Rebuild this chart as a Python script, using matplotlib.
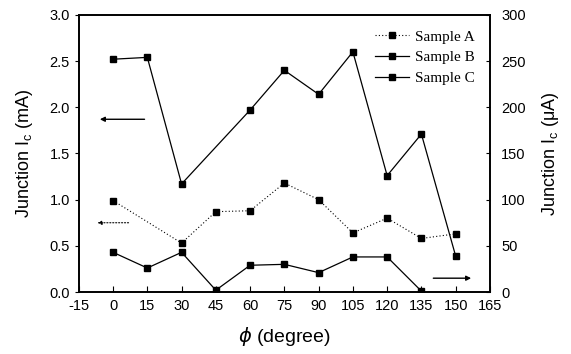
import matplotlib
matplotlib.use("Agg")
import matplotlib.pyplot as plt

# angles in degrees
phi_b = [0, 15, 30, 60, 75, 90, 105, 120, 135, 150]
phi_a = [0, 30, 45, 60, 75, 90, 105, 120, 135, 150]
phi_c = [0, 15, 30, 45, 60, 75, 90, 105, 120, 135]

# Sample A, B in mA (left axis), Sample C in uA (right axis)
ic_a = [0.99, 0.53, 0.87, 0.88, 1.18, 1.00, 0.64, 0.80, 0.58, 0.63]
ic_b = [2.52, 2.54, 1.17, 1.97, 2.40, 2.14, 2.60, 1.26, 1.71, 0.39]
ic_c = [43, 26, 43, 2, 29, 30, 21, 38, 38, 1]

plt.rcParams['font.family'] = ['Liberation Sans', 'DejaVu Sans']
plt.rcParams['axes.unicode_minus'] = False
plt.rcParams['mathtext.default'] = 'regular'

fig = plt.figure(figsize=(5.71, 3.54), dpi=100)
ax = fig.add_axes([0.138, 0.175, 0.72, 0.783])
ax2 = ax.twinx()

la, = ax.plot(phi_a, ic_a, color='black', ls=(0, (1, 2)), lw=0.8,
              marker='s', ms=4, label='Sample A')
lb, = ax.plot(phi_b, ic_b, color='black', ls='-', lw=0.9,
              marker='s', ms=5, label='Sample B')
lc, = ax2.plot(phi_c, ic_c, color='black', ls='-', lw=0.9,
               marker='s', ms=5, label='Sample C')

# arrows pointing to the axis each set belongs to
ax.annotate('', xy=(-7, 1.87), xytext=(15, 1.87),
            arrowprops=dict(arrowstyle='-|>', color='black', lw=1.0, mutation_scale=7))
ax.annotate('', xy=(-8, 0.75), xytext=(8, 0.75),
            arrowprops=dict(arrowstyle='-|>', color='black', lw=0.8, ls=':', mutation_scale=6))
ax2.annotate('', xy=(158, 15), xytext=(139, 15),
             arrowprops=dict(arrowstyle='-|>', color='black', lw=1.0, mutation_scale=7))

ax.set_xlim(-15, 165)
ax.set_ylim(0, 3.0)
ax2.set_ylim(0, 300)
ax.set_xticks(range(-15, 166, 15))
ax.set_yticks([0, 0.5, 1.0, 1.5, 2.0, 2.5, 3.0])
ax.set_yticklabels(['0.0', '0.5', '1.0', '1.5', '2.0', '2.5', '3.0'])
ax2.set_yticks(range(0, 301, 50))

ax.tick_params(axis='x', direction='in', labelsize=10.5, length=4, pad=5)
ax.tick_params(axis='y', direction='out', labelsize=10.5, length=3)
ax2.tick_params(axis='y', direction='in', labelsize=10.5, length=3, pad=8)

for sp in list(ax.spines.values()) + list(ax2.spines.values()):
    sp.set_linewidth(1.2)

ax.set_xlabel(r'$\it{\phi}$ (degree)', fontsize=14, labelpad=9)
ax.set_ylabel(r'Junction I$_c$ (mA)', fontsize=13, labelpad=10)
ax2.set_ylabel('Junction I$_c$ (\u03bcA)', fontsize=13, labelpad=10)

ax2.legend([la, lb, lc], ['Sample A', 'Sample B', 'Sample C'], loc='upper right',
           frameon=False, prop={'family': 'Liberation Serif', 'size': 11},
           handlelength=2.2, labelspacing=0.45, borderaxespad=0.6, handletextpad=0.4)

plt.savefig('out.png', dpi=100)
